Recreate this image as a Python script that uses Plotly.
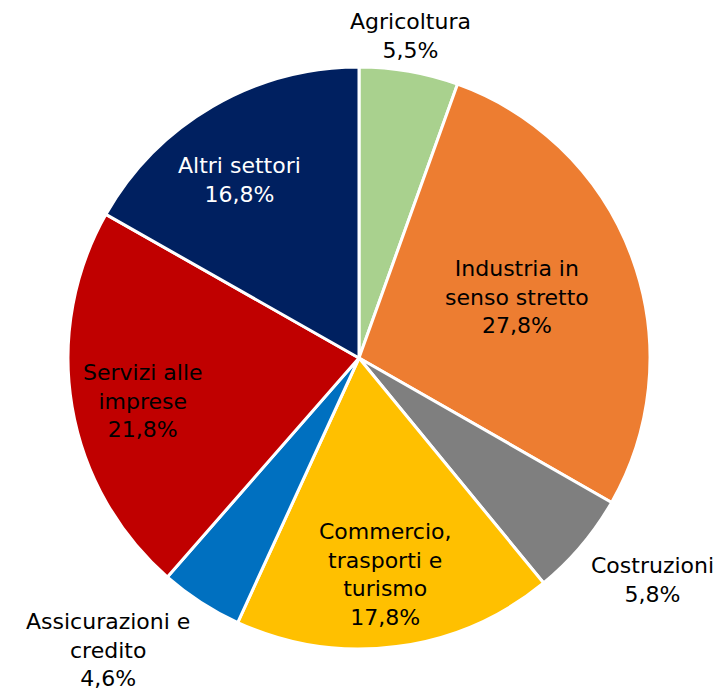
import plotly.graph_objects as go

sectors = ["Agricoltura", "Industria in<br>senso stretto", "Costruzioni",
           "Commercio,<br>trasporti e<br>turismo", "Assicurazioni e<br>credito",
           "Servizi alle<br>imprese", "Altri settori"]
shares = [5.5, 27.8, 5.8, 17.8, 4.6, 21.8, 16.8]
colors = ["#A9D18E", "#ED7D31", "#7F7F7F", "#FFC000", "#0070C0", "#C00000", "#002060"]
font_colors = ["black", "black", "black", "black", "black", "black", "white"]

def fmt(v):
    return f"{v:.1f}".replace(".", ",") + "%"

texts = [f"{s}<br>{fmt(v)}" for s, v in zip(sectors, shares)]

FONT = "DejaVu Sans"
W, H = 727, 691
OFF = 8  # page body margin

fig = go.Figure(go.Pie(
    labels=[s.replace("<br>", " ") for s in sectors],
    values=shares,
    textinfo="none",
    sort=False,
    direction="clockwise",
    rotation=0,
    marker=dict(colors=colors, line=dict(color="white", width=3)),
    hoverinfo="label+percent",
    showlegend=False,
    domain=dict(x=[(68 - OFF) / W, (650 - OFF) / W],
                y=[1 - (649 - OFF) / H, 1 - (67 - OFF) / H]),
))

# label centres (window pixels)
label_pos = [(410, 36), (517, 297), (652, 580), (385, 574),
             (108, 650), (143, 401), (240, 180)]
for i, (px, py) in enumerate(label_pos):
    fig.add_annotation(
        x=(px - OFF) / W, y=1 - (py - OFF) / H, xref="paper", yref="paper",
        text=texts[i], showarrow=False, align="center",
        font=dict(family=FONT, size=22, color=font_colors[i]),
        xanchor="center", yanchor="middle",
    )

fig.update_layout(
    width=W, height=H,
    margin=dict(l=0, r=0, t=0, b=0),
    paper_bgcolor="white",
    plot_bgcolor="white",
)

fig.write_html("out.html")
